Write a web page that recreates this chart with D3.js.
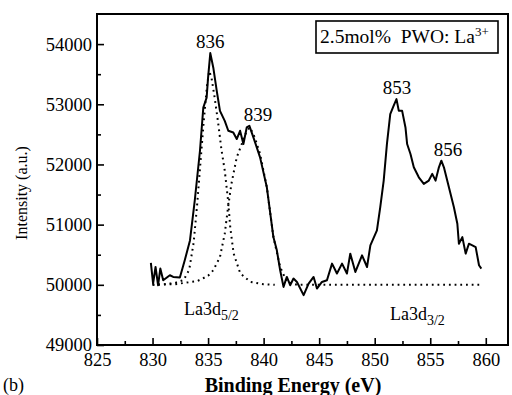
<!DOCTYPE html>
<meta charset="utf-8">
<title>La3d XPS</title>
<body style="margin:0;background:#fff">
<div id="chart"></div>
<script src="https://cdn.jsdelivr.net/npm/d3@7"></script>
<script>
// measured spectrum (binding energy eV, intensity a.u.)
const energy = [829.85, 830.05, 830.27, 830.5, 830.7, 830.96, 831.56, 831.86, 832.46, 832.9,
  833.37, 833.8, 834.27, 834.57, 834.87, 835.0, 835.2, 835.47, 835.78, 836.07,
  836.5, 836.82, 837.27, 837.58, 837.88, 838.18, 838.48, 838.72, 839.08, 839.68,
  840.29, 840.88, 841.19, 841.49, 841.79, 842.09, 842.39, 842.69, 843.0, 843.6,
  844.05, 844.5, 844.8, 845.25, 845.7, 846.16, 846.6, 847.06, 847.5, 847.8,
  848.26, 848.86, 849.31, 849.61, 850.2, 850.5, 850.81, 851.1, 851.4, 851.7,
  851.96, 852.17, 852.47, 852.77, 852.92, 853.22, 853.52, 853.97, 854.42, 854.87,
  855.18, 855.48, 855.78, 856.0, 856.23, 856.68, 857.13, 857.44, 857.58, 857.89,
  858.19, 858.48, 858.79, 859.09, 859.39, 859.6];
const intensity = [50363, 50021, 50296, 49993, 50270, 50076, 50159, 50131, 50121, 50407,
  50738, 51400, 52228, 52945, 53111, 53442, 53850, 53608, 53221, 52891,
  52725, 52560, 52532, 52422, 52560, 52339, 52615, 52642, 52450, 52118,
  51621, 50793, 50573, 50242, 49965, 50131, 49993, 50104, 50048, 49828,
  50021, 50131, 49938, 50048, 50076, 50352, 50187, 50352, 50187, 50518,
  50214, 50490, 50296, 50656, 50904, 51290, 51732, 52339, 52836, 52974,
  53085, 52891, 52891, 52615, 52339, 52174, 51953, 51787, 51678, 51732,
  51843, 51732, 51953, 52063, 51953, 51621, 51290, 51015, 50683, 50793,
  50518, 50683, 50656, 50627, 50325, 50270];

// fitted component La3d5/2 (first peak)
const fit1Energy = [830.0, 831.0, 832.0, 832.8, 833.3, 833.7, 834.0, 834.3, 834.6, 834.9,
  835.1, 835.3, 835.6, 835.9, 836.2, 836.5, 836.8, 837.0, 837.3, 837.9, 838.8, 840.0, 841.0];
const fit1Intensity = [50000, 50010, 50030, 50080, 50250, 50700, 51300, 52000, 52700, 53300,
  53550, 53450, 53100, 52700, 52250, 51900, 51400, 50950, 50520, 50190, 50050, 50010, 50000];

// fitted component (second peak) and baseline
const fit2Energy = [830.0, 832.0, 834.0, 835.0, 835.47, 836.07, 836.5, 836.8, 837.1, 837.58,
  838.03, 838.48, 838.78, 839.2, 839.68, 840.29, 840.88, 841.49, 842.09, 843.0, 850.0, 859.7];
const fit2Intensity = [50000, 50010, 50060, 50150, 50242, 50462, 50849, 51290, 51677, 52118,
  52339, 52560, 52615, 52450, 52174, 51621, 50793, 50296, 50048, 50000, 50000, 50000];

const xMajor = [825, 830, 835, 840, 845, 850, 855, 860];
const xMinor = [827.5, 832.5, 837.5, 842.5, 847.5, 852.5, 857.5];
const yMajor = [49000, 50000, 51000, 52000, 53000, 54000];
const yMinor = [49500, 50500, 51500, 52500, 53500];

const peakLabels = [
  {e: 835.2, v: 53850, t: "836"},
  {e: 839.5, v: 52642, t: "839"},
  {e: 852.0, v: 53085, t: "853"},
  {e: 856.6, v: 52063, t: "856"}
];

const serif = "'Liberation Serif', 'Times New Roman', serif";
const width = 512, height = 395;
const margin = {left: 97, right: 4, top: 14, bottom: 50};

const svg = d3.select("#chart").append("svg")
  .attr("width", width).attr("height", height);

const x = d3.scaleLinear().domain([825, 862]).range([margin.left, width - margin.right]);
const y = d3.scaleLinear().domain([49000, 54500]).range([height - margin.bottom, margin.top]);

// frame
svg.append("rect")
  .attr("x", x(825)).attr("y", y(54500))
  .attr("width", x(862) - x(825)).attr("height", y(49000) - y(54500))
  .attr("fill", "none").attr("stroke", "#000").attr("stroke-width", 2);

// axes with inside ticks
const gx = svg.append("g").attr("transform", `translate(0,${y(49000)})`);
gx.call(d3.axisBottom(x).tickValues(xMajor).tickSize(-7).tickPadding(7).tickFormat(d3.format("d")));
gx.append("g").call(d3.axisBottom(x).tickValues(xMinor).tickSize(-4).tickFormat(""));
const gy = svg.append("g").attr("transform", `translate(${x(825)},0)`);
gy.call(d3.axisLeft(y).tickValues(yMajor).tickSize(-7).tickPadding(5).tickFormat(d3.format("d")));
gy.append("g").call(d3.axisLeft(y).tickValues(yMinor).tickSize(-4).tickFormat(""));
svg.selectAll(".domain").remove();
svg.selectAll(".tick line").attr("stroke", "#000").attr("stroke-width", 1.6);
svg.selectAll(".tick text").style("font-size", "18.5px").attr("fill", "#000");
gx.selectAll(".tick text").attr("dy", "0.75em");

const line = d3.line().x(d => x(d[0])).y(d => y(d[1]));

// fits
[[fit1Energy, fit1Intensity], [fit2Energy, fit2Intensity]].forEach(([e, v]) => {
  svg.append("path")
    .datum(e.map((d, i) => [d, v[i]]))
    .attr("d", line)
    .attr("fill", "none").attr("stroke", "#000")
    .attr("stroke-width", 2).attr("stroke-dasharray", "1.8,3.9");
});

// spectrum
svg.append("path")
  .datum(energy.map((d, i) => [d, intensity[i]]))
  .attr("d", line)
  .attr("fill", "none").attr("stroke", "#000")
  .attr("stroke-width", 2).attr("stroke-linejoin", "round");

// peak labels
svg.selectAll(".peak").data(peakLabels).enter().append("text")
  .attr("x", d => x(d.e))
  .attr("y", d => y(d.v) - 5)
  .attr("text-anchor", "middle")
  .style("font-size", "19px")
  .text(d => d.t);

// component labels
function orbital(px, py, sub) {
  const t = svg.append("text").attr("x", px).attr("y", py).style("font-size", "18px");
  t.append("tspan").text("La3d");
  t.append("tspan").attr("dy", 5).style("font-size", "14px").text(sub);
}
orbital(184, 315, "5/2");
orbital(390, 320, "3/2");

// legend box
svg.append("rect").attr("x", 316).attr("y", 21).attr("width", 182).attr("height", 32)
  .attr("fill", "#fff").attr("stroke", "#000").attr("stroke-width", 1.6);
const lg = svg.append("text").attr("x", 320).attr("y", 43).style("font-size", "19.5px");
lg.append("tspan").text("2.5mol%\u00a0\u00a0PWO: La");
lg.append("tspan").attr("dy", -7).style("font-size", "13px").text("3+");

// axis titles
svg.append("text")
  .attr("transform", "translate(27,193) rotate(-90)")
  .attr("text-anchor", "middle")
  .style("font-size", "16px")
  .text("Intensity (a.u.)");

svg.append("text")
  .attr("x", 293).attr("y", 392)
  .attr("text-anchor", "middle")
  .style("font-size", "20px").style("font-weight", "bold")
  .text("Binding Energy (eV)");

svg.append("text").attr("x", 3).attr("y", 391).style("font-size", "18px").text("(b)");

svg.selectAll("text").style("font-family", serif).attr("fill", "#000");
</script>
</body>
